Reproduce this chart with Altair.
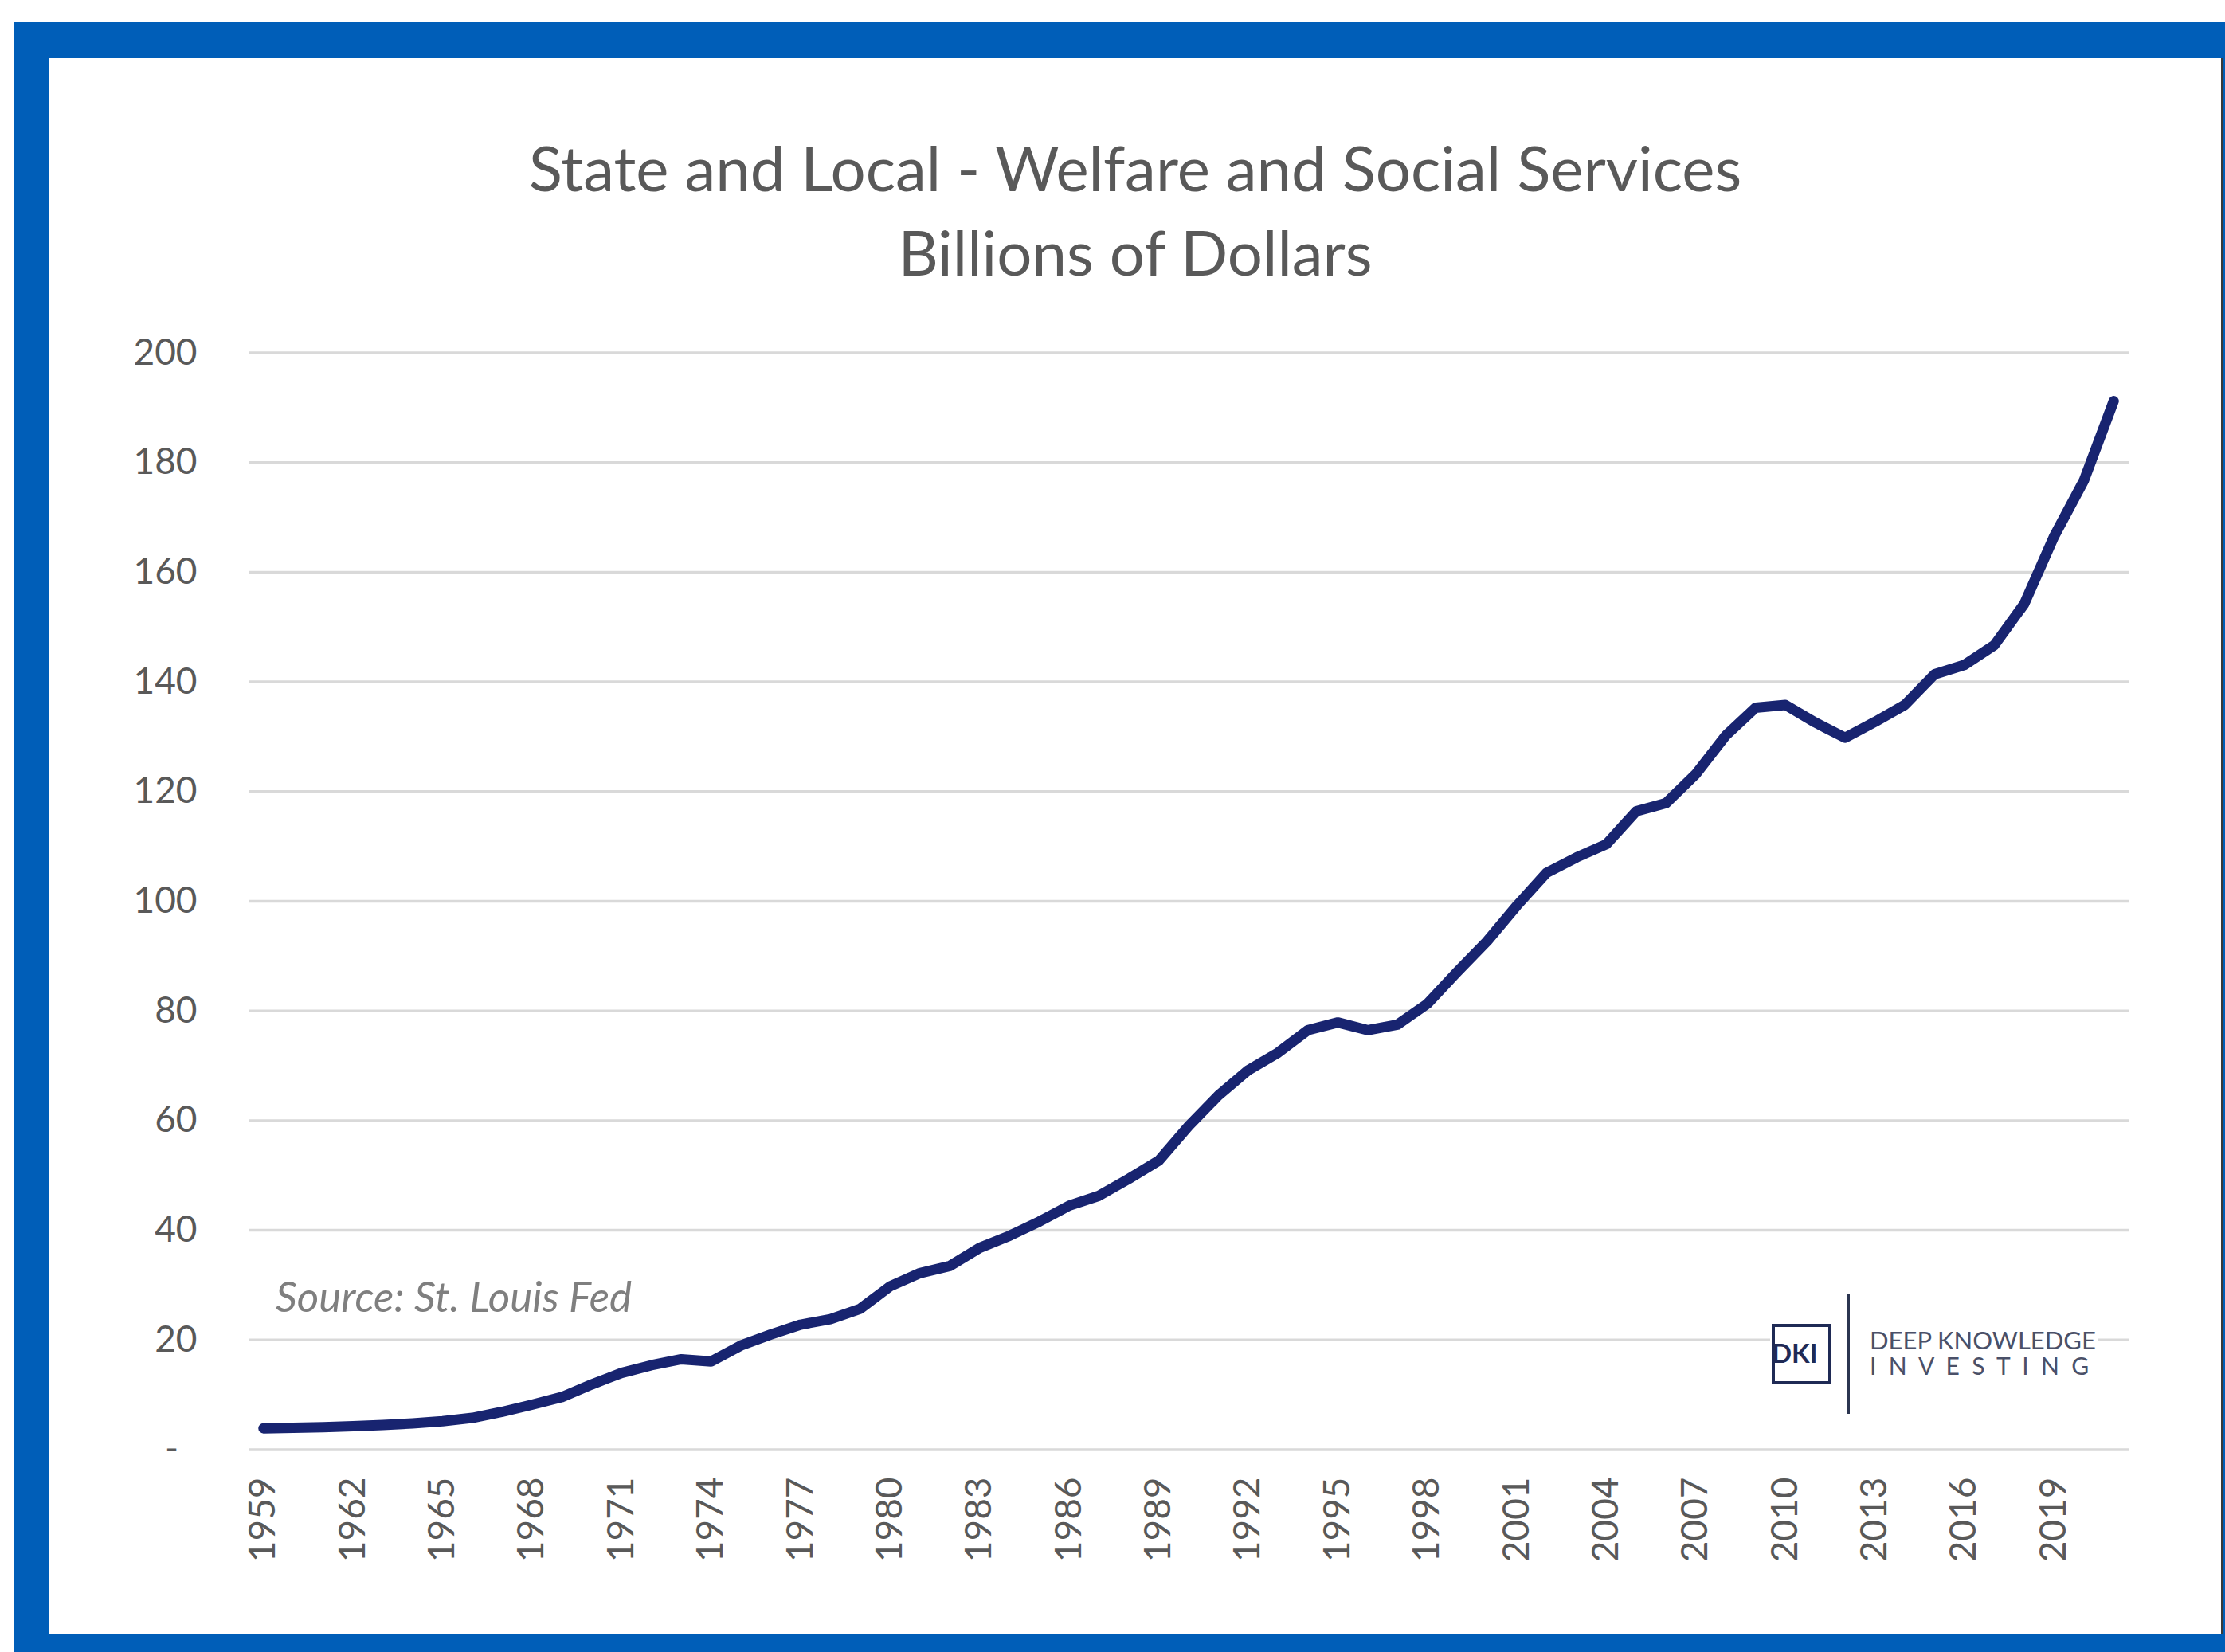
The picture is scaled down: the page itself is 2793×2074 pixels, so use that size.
import altair as alt
import pandas as pd

# ---------------- data ----------------
years = list(range(1959, 2022))
values = [
    3.9, 4.0, 4.1, 4.3, 4.5, 4.8, 5.2, 5.8, 6.9, 8.2,          # 1959-1968
    9.6, 11.9, 14.0, 15.4, 16.5, 16.1, 19.0, 21.0, 22.8, 23.8,  # 1969-1978
    25.7, 29.8, 32.2, 33.5, 36.8, 39.0, 41.6, 44.5, 46.3, 49.4, # 1979-1988
    52.7, 59.0, 64.6, 69.2, 72.4, 76.5, 77.9, 76.5, 77.5, 81.3, # 1989-1998
    87.1, 92.7, 99.2, 105.2, 108.0, 110.4, 116.4, 117.9, 123.2, 130.2,  # 1999-2008
    135.3, 135.8, 132.6, 129.8, 132.7, 135.8, 141.4, 143.1, 146.7, 154.2,  # 2009-2018
    166.5, 176.7, 191.2,                                         # 2019-2021
]
y_ticks = [0, 20, 40, 60, 80, 100, 120, 140, 160, 180, 200]
zero_label = "-"
x_label_years = list(range(1959, 2020, 3))
title_lines = ["State and Local - Welfare and Social Services", "Billions of Dollars"]
source_text = "Source: St. Louis Fed"
logo_mark = "DKI"
logo_line1 = "DEEP KNOWLEDGE"
logo_line2 = "\u00a0\u00a0".join("INVESTING")

# ---------------- layout ----------------
L, T = 312, 443          # plot origin on the page
W, H = 2360, 1377        # plot area
PAGE_W, PAGE_H = 2793, 2074
FONT = "Lato"
GRAY = "#595959"
NAVY = "#182470"
BLUE = "#005EB8"


def px(x):
    return x - L


def py(y):
    return y - T


df = pd.DataFrame({"year": years, "value": values})
grid_df = pd.DataFrame({"value": y_ticks})
zero_df = pd.DataFrame({"value": [0], "lab": [zero_label]})
one = pd.DataFrame({"k": [0]})

x_scale = alt.Scale(type="point", padding=0.5, domain=years)
y_scale = alt.Scale(domain=[0, 200], nice=False, zero=True)

y_axis = alt.Axis(values=y_ticks, labelPadding=65, labelFontSize=46,
                  labelFont=FONT, labelColor=GRAY, ticks=False, domain=False,
                  grid=False, zindex=1,
                  labelExpr="datum.value == 0 ? '' : datum.label")
x_axis = alt.Axis(values=x_label_years, labelAngle=270, labelAlign="right",
                  labelBaseline="middle", labelPadding=34, labelFontSize=46,
                  labelFont=FONT, labelColor=GRAY, ticks=False, domain=False,
                  grid=False, zindex=1)


def box(x1, x2, y1, y2, color, **kw):
    return alt.Chart(one).mark_rect(color=color, **kw).encode(
        x=alt.value(px(x1)), x2=alt.value(px(x2)),
        y=alt.value(py(y1)), y2=alt.value(py(y2)),
    )


def label(text, x, y, size, color, **kw):
    return alt.Chart(one).mark_text(
        fontSize=size, color=color, font=FONT, baseline="middle", **kw
    ).encode(x=alt.value(px(x)), y=alt.value(py(y)), text=alt.value(text))


frame_blue = box(18, PAGE_W, 27, PAGE_H, BLUE)
frame_white = box(62, 2789, 73, 2051, "white")
right_edge = box(2788, 2791, 73, 2051, "#3a3a3a")

grid = alt.Chart(grid_df).mark_rule(color="#d9d9d9", strokeWidth=3.5).encode(
    y=alt.Y("value:Q", scale=y_scale, axis=y_axis, title=None),
    x=alt.value(0), x2=alt.value(W),
)

# Excel-style accounting zero label "-" sits a little left of the other labels
zero_tick = alt.Chart(zero_df).mark_text(
    fontSize=46, color=GRAY, font=FONT, align="right", baseline="middle"
).encode(
    y=alt.Y("value:Q", scale=y_scale, axis=y_axis, title=None),
    x=alt.value(px(224)),
    text="lab:N",
)

title1 = label(title_lines[0], 1425, 217, 78, GRAY, align="center")
title2 = label(title_lines[1], 1425, 323, 78, GRAY, align="center")
source = label(source_text, 346, 1631, 53, "#7f7f7f", align="left", fontStyle="italic")

logo_bg = box(2222, 2634, 1620, 1782, "white")
logo_box = box(2226, 2297, 1664, 1736, "white", stroke="#1f2a55", strokeWidth=4)
logo_dki = label(logo_mark, 2224, 1701, 33, "#1f2a55", align="left", fontWeight="bold")
logo_bar = box(2318, 2322, 1625, 1775, "#2b3550")
logo_t1 = label(logo_line1, 2347, 1685, 31, "#4a5068", align="left")
logo_t2 = label(logo_line2, 2347, 1717, 30, "#4a5068", align="left")

line = alt.Chart(df).mark_line(
    color=NAVY, strokeWidth=13, strokeCap="round", strokeJoin="round"
).encode(
    x=alt.X("year:O", scale=x_scale, title=None, axis=x_axis),
    y=alt.Y("value:Q", scale=y_scale, title=None, axis=y_axis),
)

chart = alt.layer(
    frame_blue, frame_white, right_edge, grid,
    title1, title2, source,
    logo_bg, logo_box, logo_dki, logo_bar, logo_t1, logo_t2,
    line, zero_tick,
).properties(
    width=W, height=H,
    autosize=alt.AutoSizeParams(type="none"),
    padding={"left": L, "top": T, "right": PAGE_W - L - W, "bottom": PAGE_H - T - H},
    background="white",
).configure_view(stroke=None)

chart.save("out.html", embed_options={"renderer": "svg", "actions": False})
